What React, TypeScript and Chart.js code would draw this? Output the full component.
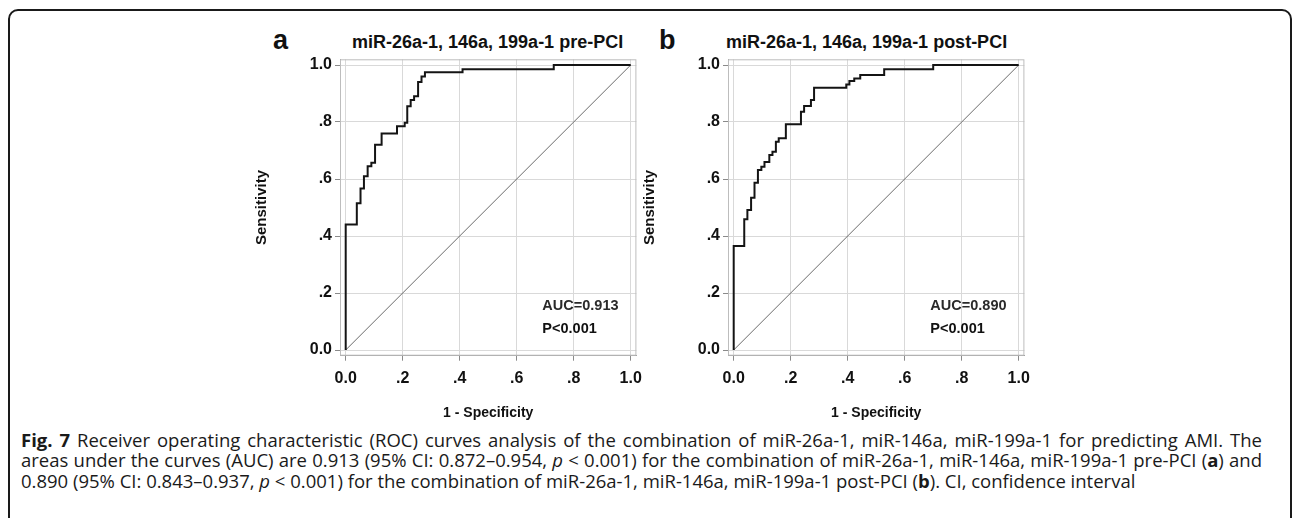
import React, { useEffect, useRef } from 'react';
import { Chart, registerables } from 'chart.js';

Chart.register(...registerables);

// ---------- data ----------
const axisTicks = [0, 0.2, 0.4, 0.6, 0.8, 1.0];
const axisTickLabels = ['0.0', '.2', '.4', '.6', '.8', '1.0'];
const diagonalX = [0, 1];
const diagonalY = [0, 1];

// panel a: pre-PCI ROC (1 - specificity, sensitivity)
const fprPre = [0, 0, 0.039, 0.052, 0.064, 0.077, 0.09, 0.103, 0.126, 0.18, 0.207, 0.216, 0.228, 0.24, 0.254, 0.266, 0.278, 0.41, 0.73, 1.0];
const tprPre = [0, 0.44, 0.515, 0.567, 0.61, 0.645, 0.657, 0.72, 0.76, 0.785, 0.797, 0.855, 0.877, 0.89, 0.94, 0.96, 0.975, 0.985, 1.0, 1.0];

// panel b: post-PCI ROC
const fprPost = [0, 0, 0.037, 0.048, 0.061, 0.073, 0.085, 0.097, 0.108, 0.125, 0.136, 0.148, 0.158, 0.183, 0.236, 0.247, 0.271, 0.282, 0.395, 0.406, 0.423, 0.444, 0.528, 0.7, 1.0];
const tprPost = [0, 0.365, 0.459, 0.491, 0.534, 0.587, 0.632, 0.643, 0.66, 0.684, 0.696, 0.731, 0.743, 0.792, 0.836, 0.856, 0.877, 0.92, 0.932, 0.944, 0.953, 0.965, 0.985, 1.0, 1.0];

const panelLetters = ['a', 'b'];
const panelTitles = ['miR-26a-1, 146a, 199a-1 pre-PCI', 'miR-26a-1, 146a, 199a-1 post-PCI'];
const aucLabels = ['AUC=0.913', 'AUC=0.890'];
const pLabels = ['P<0.001', 'P<0.001'];
const xAxisTitle = '1 - Specificity';
const yAxisTitle = 'Sensitivity';

// ---------- layout / style ----------
const FONT = "'Liberation Sans', Arial, Helvetica, sans-serif";
const CAP_FONT = "'Open Sans', 'Noto Sans', sans-serif";
const PANEL_LEFT = [240, 627.8];
const CANVAS_TOP = 20;
const CANVAS_W = 420;
const CANVAS_H = 406;
const PAD_TOP = 39.3;
const Y_SCALE_W = 100;
const PAD_RIGHT = 23.6;
const X_SCALE_H = 70.3;
const AUC_POS = { x: 0.69, y1: 0.155, y2: 0.075 };

const framePlugin = {
  id: 'frame',
  beforeDatasetsDraw(chart: any) {
    const { ctx, chartArea } = chart;
    ctx.save();
    ctx.strokeStyle = '#bdbdbd';
    ctx.lineWidth = 1;
    ctx.strokeRect(chartArea.left + 0.5, chartArea.top + 0.5, chartArea.right - chartArea.left - 1, chartArea.bottom - chartArea.top - 1);
    ctx.restore();
  },
};

function makeTextPlugin(auc: string, p: string) {
  return {
    id: 'aucText',
    afterDatasetsDraw(chart: any) {
      const { ctx, scales } = chart;
      const x = scales.x.getPixelForValue(AUC_POS.x);
      ctx.save();
      ctx.font = `bold 14.5px ${FONT}`;
      ctx.textBaseline = 'middle';
      ctx.textAlign = 'left';
      ctx.fillStyle = '#2a2a2a';
      ctx.fillText(auc, x, scales.y.getPixelForValue(AUC_POS.y1));
      ctx.fillStyle = '#111';
      ctx.fillText(p, x, scales.y.getPixelForValue(AUC_POS.y2));
      ctx.restore();
    },
  };
}

function RocPanel({ fpr, tpr, auc, p, left }: { fpr: number[]; tpr: number[]; auc: string; p: string; left: number }) {
  const ref = useRef<HTMLCanvasElement | null>(null);
  useEffect(() => {
    if (!ref.current) return;
    const tickFont = { family: FONT, size: 16, weight: 'bold' as const };
    const chart = new Chart(ref.current, {
      type: 'scatter',
      data: {
        datasets: [
          {
            data: fpr.map((x, i) => ({ x, y: tpr[i] })),
            showLine: true,
            stepped: 'before',
            borderColor: '#141414',
            borderWidth: 2,
            pointRadius: 0,
            order: 0,
          },
          {
            data: diagonalX.map((x, i) => ({ x, y: diagonalY[i] })),
            showLine: true,
            borderColor: '#6a6a6a',
            borderWidth: 1,
            pointRadius: 0,
            order: 1,
          },
        ],
      } as any,
      options: {
        animation: false,
        responsive: false,
        maintainAspectRatio: false,
        devicePixelRatio: 1,
        layout: { padding: { top: PAD_TOP, right: PAD_RIGHT, bottom: 0, left: 0 } },
        plugins: { legend: { display: false }, tooltip: { enabled: false }, title: { display: false } },
        scales: {
          x: {
            type: 'linear',
            min: -0.02,
            max: 1.02,
            afterBuildTicks: (s: any) => { s.ticks = axisTicks.map((v) => ({ value: v })); },
            afterFit: (s: any) => { s.height = X_SCALE_H; },
            grid: { color: '#d9d9d9', tickColor: '#8a8a8a', tickLength: 5, lineWidth: 1 },
            border: { color: '#9a9a9a' },
            ticks: {
              callback: (_v: any, i: number) => axisTickLabels[i],
              color: '#111',
              font: tickFont,
              padding: 8,
              maxRotation: 0,
              autoSkip: false,
            },
            title: {
              display: true,
              text: xAxisTitle,
              color: '#111',
              font: { family: FONT, size: 14, weight: 'bold' },
              padding: { top: 0, bottom: 4.2 },
            },
          },
          y: {
            type: 'linear',
            min: -0.02,
            max: 1.02,
            afterBuildTicks: (s: any) => { s.ticks = axisTicks.map((v) => ({ value: v })); },
            afterFit: (s: any) => { s.width = Y_SCALE_W; },
            grid: { color: '#d9d9d9', tickColor: '#8a8a8a', tickLength: 5, lineWidth: 1 },
            border: { color: '#9a9a9a' },
            ticks: {
              callback: (_v: any, i: number) => axisTickLabels[i],
              color: '#111',
              font: tickFont,
              padding: 3,
              autoSkip: false,
            },
            title: {
              display: true,
              text: yAxisTitle,
              color: '#111',
              font: { family: FONT, size: 15, weight: 'bold' },
              padding: { top: 13, bottom: 0 },
            },
          },
        },
      } as any,
      plugins: [framePlugin, makeTextPlugin(auc, p)],
    });
    return () => chart.destroy();
  }, [fpr, tpr, auc, p]);
  return (
    <canvas
      ref={ref}
      width={CANVAS_W}
      height={CANVAS_H}
      style={{ position: 'absolute', left, top: CANVAS_TOP, width: CANVAS_W, height: CANVAS_H }}
    />
  );
}

export default function App() {
  const letterStyle = (left: number): React.CSSProperties => ({
    position: 'absolute', left, top: 27, fontFamily: FONT, fontWeight: 'bold', fontSize: 27, lineHeight: '27px', color: '#111',
  });
  const titleStyle = (left: number): React.CSSProperties => ({
    position: 'absolute', left, top: 33, fontFamily: FONT, fontWeight: 'bold', fontSize: 18, lineHeight: '18px', color: '#111', whiteSpace: 'nowrap',
  });
  const capLine = (top: number, justify: boolean): React.CSSProperties => ({
    position: 'absolute', left: 21, top, width: justify ? 1241 : undefined, fontFamily: CAP_FONT, fontSize: 18.5, lineHeight: '20.5px',
    color: '#1a1a1a', whiteSpace: justify ? 'normal' : 'nowrap', textAlign: justify ? 'justify' : 'left',
    textAlignLast: justify ? 'justify' : 'auto',
  } as React.CSSProperties);
  return (
    <div style={{ position: 'absolute', left: 0, top: 0, width: 1292, height: 518, overflow: 'hidden', background: '#fff' }}>
      <div style={{ position: 'absolute', left: 8, top: 9, width: 1284, height: 700, boxSizing: 'border-box', border: '2px solid #1a1a1a', borderRadius: 10 }} />
      <div style={letterStyle(273)}>{panelLetters[0]}</div>
      <div style={letterStyle(659)}>{panelLetters[1]}</div>
      <div style={titleStyle(352)}>{panelTitles[0]}</div>
      <div style={titleStyle(726)}>{panelTitles[1]}</div>
      <RocPanel fpr={fprPre} tpr={tprPre} auc={aucLabels[0]} p={pLabels[0]} left={PANEL_LEFT[0]} />
      <RocPanel fpr={fprPost} tpr={tprPost} auc={aucLabels[1]} p={pLabels[1]} left={PANEL_LEFT[1]} />
      <div style={capLine(429.75, true)}>
        <b>Fig. 7</b> Receiver operating characteristic (ROC) curves analysis of the combination of miR-26a-1, miR-146a, miR-199a-1 for predicting AMI. The
      </div>
      <div style={capLine(450.25, true)}>
        areas under the curves (AUC) are 0.913 (95% CI: 0.872–0.954, <i>p</i> &lt; 0.001) for the combination of miR-26a-1, miR-146a, miR-199a-1 pre-PCI (<b>a</b>) and
      </div>
      <div style={capLine(470.75, false)}>
        0.890 (95% CI: 0.843–0.937, <i>p</i> &lt; 0.001) for the combination of miR-26a-1, miR-146a, miR-199a-1 post-PCI (<b>b</b>). CI, confidence interval
      </div>
    </div>
  );
}
